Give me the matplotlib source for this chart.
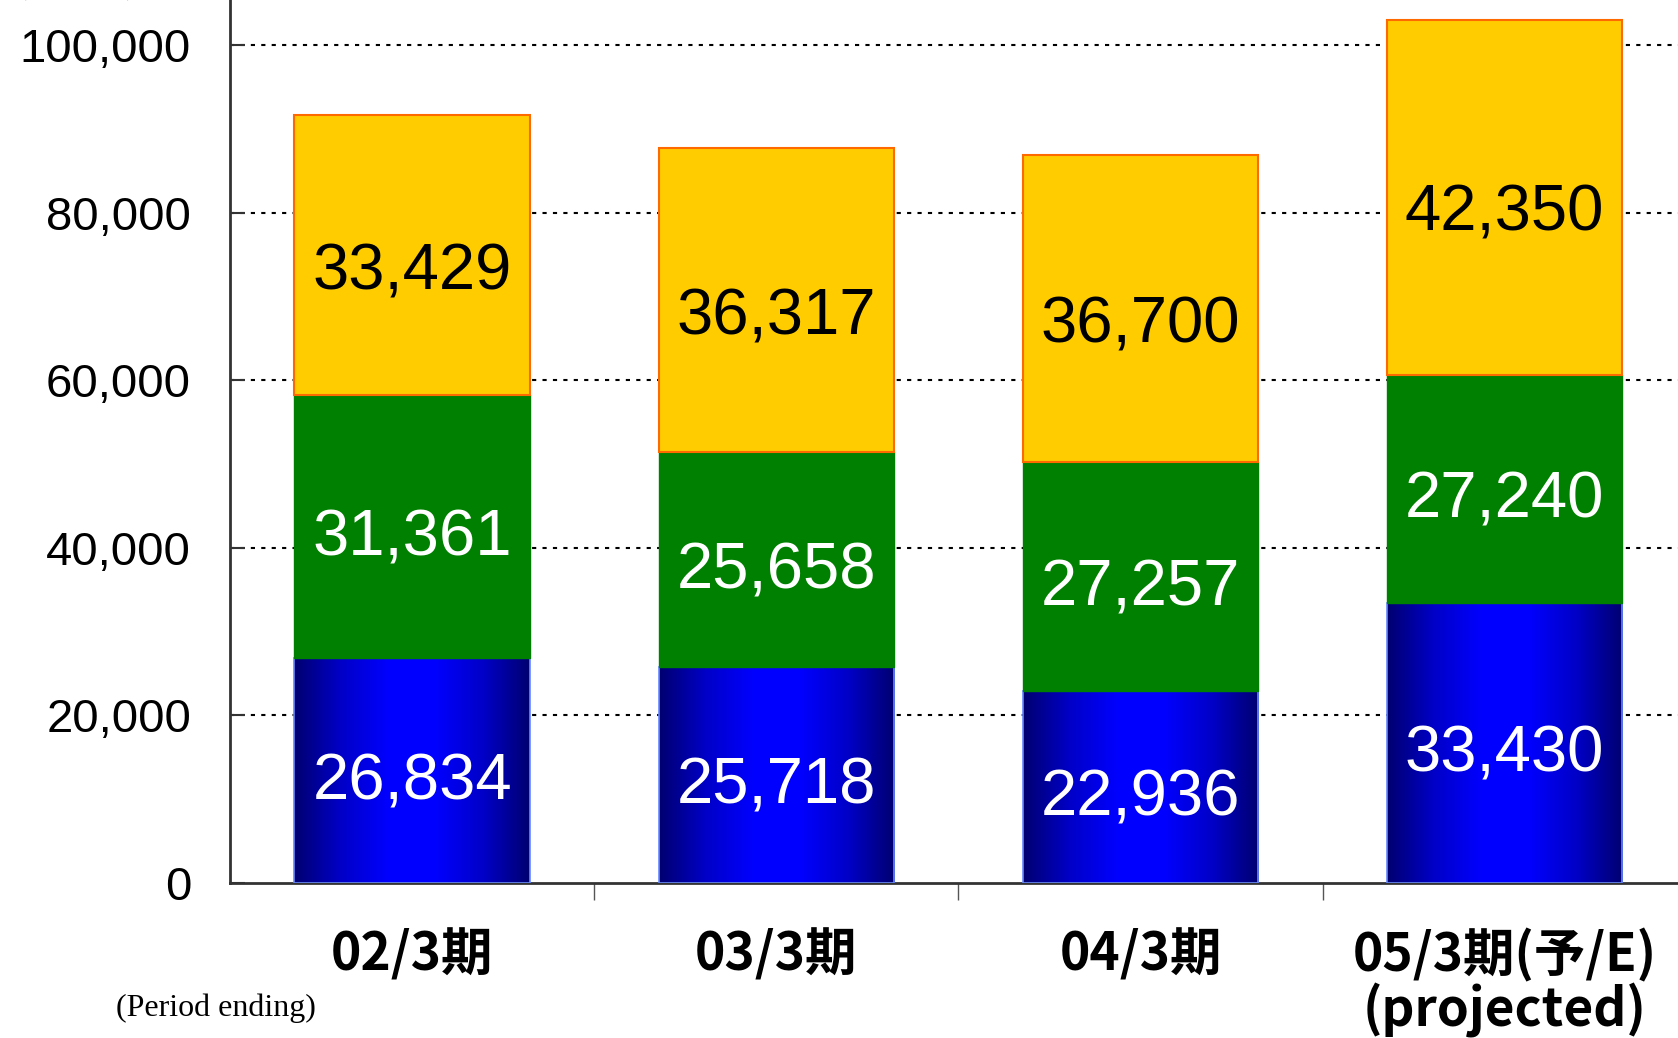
import numpy as np
import matplotlib
matplotlib.use('Agg')
import matplotlib.pyplot as plt
from matplotlib.colors import LinearSegmentedColormap

# data (millions of yen)
periods = ['02/3期', '03/3期', '04/3期', '05/3期(予/E)\n(projected)']
bottom_vals = [26834, 25718, 22936, 33430]
middle_vals = [31361, 25658, 27257, 27240]
top_vals = [33429, 36317, 36700, 42350]
y_ticks = [0, 20000, 40000, 60000, 80000, 100000]

fig = plt.figure(figsize=(16.78, 10.38), dpi=100)
ax = fig.add_axes([230 / 1678, 1 - 883 / 1038, 1 - 230 / 1678, 883 / 1038])

x = np.arange(len(periods)) + 0.5
width = 0.646

# grid lines behind the bars
for t in y_ticks[1:]:
    ax.axhline(t, color='black', linestyle=(0, (2, 3)), linewidth=1.5, zorder=0)

# blue segment with horizontal gradient
blue_cmap = LinearSegmentedColormap.from_list(
    'bl', ['#000070', '#0000C8', '#0000FF', '#0000FF', '#0000C8', '#000070'])
grad = np.linspace(0, 1, 256).reshape(1, -1)
for xi, v in zip(x, bottom_vals):
    ax.imshow(grad, extent=[xi - width / 2, xi + width / 2, 0, v], aspect='auto',
              cmap=blue_cmap, zorder=2)
ax.bar(x, bottom_vals, width, facecolor='none', edgecolor='#6688FF', linewidth=1.2, zorder=3)

ax.bar(x, middle_vals, width, bottom=bottom_vals, color='#008000', edgecolor='#008000',
       linewidth=1, zorder=3)
mid_tops = np.array(bottom_vals) + np.array(middle_vals)
ax.bar(x, top_vals, width, bottom=mid_tops, color='#FFCC00', edgecolor='#FF6A00',
       linewidth=1.5, zorder=3)

# segment labels
for xi, b, m, t in zip(x, bottom_vals, middle_vals, top_vals):
    ax.text(xi, b / 2 - 1400, f'{b:,}', ha='center', va='center', fontsize=47,
            family='Liberation Sans', color='white', zorder=5)
    ax.text(xi, b + m / 2 - 1400, f'{m:,}', ha='center', va='center', fontsize=47,
            family='Liberation Sans', color='white', zorder=5)
    ax.text(xi, b + m + t / 2 - 2000, f'{t:,}', ha='center', va='center', fontsize=47,
            family='Liberation Sans', color='black', zorder=5)

ax.set_xlim(0, 3.976)
ax.set_ylim(0, 105370)

ax.set_yticks(y_ticks)
ax.set_yticklabels([f'{t:,}' for t in y_ticks], family='Liberation Sans', fontsize=34)
ax.tick_params(axis='y', direction='in', length=11, width=1.5, pad=28, color='#333333')

ax.set_xticks(x)
ax.set_xticklabels(periods, family=['Noto Sans CJK JP', 'DejaVu Sans'], fontweight='bold',
                   fontsize=37, linespacing=1.0)
ax.tick_params(axis='x', length=0, pad=33)
ax.set_xticks([1, 2, 3], minor=True)
ax.tick_params(axis='x', which='minor', direction='out', length=12, width=1, color='#555555')

for s in ['top', 'right']:
    ax.spines[s].set_visible(False)
for s in ['left', 'bottom']:
    ax.spines[s].set_color('#333333')
    ax.spines[s].set_linewidth(2)

fig.text(116 / 1678, 1 - 1008 / 1038, '(Period ending)', family='Liberation Serif',
         fontsize=23, va='center', ha='left')
fig.text(18 / 1678, 1 + 6 / 1038, '(百万円)', family=['Noto Sans CJK JP', 'DejaVu Sans'],
         fontsize=23, va='baseline', ha='left')

fig.savefig('out.png', dpi=100)
